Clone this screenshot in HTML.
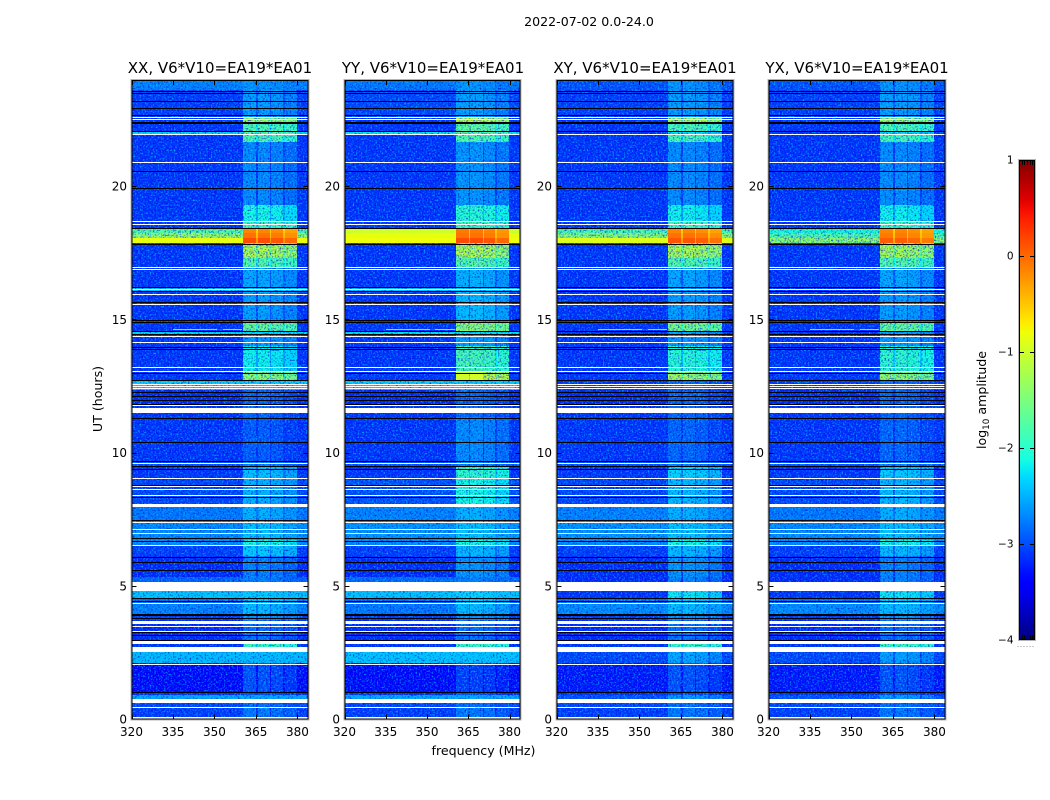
<!DOCTYPE html>
<html lang="en">
<head>
<meta charset="utf-8">
<title>2022-07-02 0.0-24.0</title>
<style>
html,body{margin:0;padding:0;background:#fff;}
svg{display:block;}
text{font-family:"DejaVu Sans","Liberation Sans",sans-serif;fill:#000;}
</style>
</head>
<body>
<svg id="fig" xmlns="http://www.w3.org/2000/svg" width="1050" height="800" viewBox="0 0 1050 800">
  <defs>
    <filter id="speckle-light" x="0" y="0" width="100%" height="100%" color-interpolation-filters="sRGB">
      <feTurbulence type="fractalNoise" baseFrequency="0.62" numOctaves="1" seed="4"/>
      <feColorMatrix type="matrix" values="0 0 0 0 0  0 0 0 0 0.8  0 0 0 0 1  2.6 0 0 0 -1.25"/>
    </filter>
    <filter id="speckle-dark" x="0" y="0" width="100%" height="100%" color-interpolation-filters="sRGB">
      <feTurbulence type="fractalNoise" baseFrequency="0.6" numOctaves="1" seed="11"/>
      <feColorMatrix type="matrix" values="0 0 0 0 0  0 0 0 0 0  0 0 0 0 0.8  0 2.4 0 0 -1.2"/>
    </filter>
    <linearGradient id="jet-gradient" x1="0" y1="1" x2="0" y2="0"></linearGradient>
  </defs>
  <rect x="0" y="0" width="1050" height="800" fill="#fff"/>
  <text x="589" y="26" font-size="12.6" text-anchor="middle">2022-07-02 0.0-24.0</text>
  <text x="220" y="73" font-size="15" text-anchor="middle">XX, V6*V10=EA19*EA01</text>
  <text x="433" y="73" font-size="15" text-anchor="middle">YY, V6*V10=EA19*EA01</text>
  <text x="645" y="73" font-size="15" text-anchor="middle">XY, V6*V10=EA19*EA01</text>
  <text x="857" y="73" font-size="15" text-anchor="middle">YX, V6*V10=EA19*EA01</text>
  <text x="0" y="0" font-size="12.6" text-anchor="middle" transform="translate(102,399) rotate(-90)">UT (hours)</text>
  <text x="483.5" y="755" font-size="12.6" text-anchor="middle">frequency (MHz)</text>
  <text x="0" y="0" font-size="12.6" text-anchor="middle" transform="translate(986,400) rotate(-90)">log<tspan font-size="8.8" dy="3">10</tspan><tspan dy="-3"> amplitude</tspan></text>
  <g id="panels"></g>
  <g id="colorbar"></g>
</svg>
<script>
// Frequency zones (MHz): quiet band, then four RFI blocks with narrow gaps, then quiet band.
var freqEdges = [320, 360.4, 365.1, 365.8, 370.2, 370.6, 374.9, 375.6, 379.8, 384];
var zoneRfiOffset = [-9, 0, -0.4, 0, -0.4, -0.05, -0.4, -0.15, -9];

// Time bands (UT hours), top to bottom.
var bandEdgesUT = [24, 23.60, 22.59, 22.33, 22.03, 21.91, 21.65, 19.29, 18.65, 18.43, 18.24, 18.05, 17.86, 17.30, 16.96, 16.21, 16.02, 14.86, 14.52, 14.41, 14.00, 13.02, 12.72, 12.35, 11.75, 11.34, 9.65, 9.46, 8.97, 8.03, 7.47, 6.72, 6.49, 6.12, 5.33, 5.14, 4.81, 4.54, 4.36, 3.94, 3.72, 2.97, 2.52, 2.11, 1.01, 0.90, 0.75, 0.45, 0];

// log10 amplitude of the quiet background in each time band.
var backgroundXX = [-2.75, -3.1, -3.15, -3.15, -2.3, -3.15, -3.15, -3.15, -3.15, -1.7, -1.3, -0.85, -3.15, -3.15, -3.15, -2.4, -3.15, -3.15, -2.3, -3.15, -3.15, -3.15, -2.35, -3.2, -3.15, -3.15, -3.0, -3.15, -3.05, -2.8, -2.7, -2.7, -3.1, -3.2, -2.9, -2.9, -2.4, -2.85, -2.75, -3.1, -3.2, -3.15, -2.45, -3.4, -3.15, -2.55, -3.05, -3.1];
var backgroundYY = [-2.8, -3.05, -3.15, -3.15, -2.2, -3.15, -3.15, -3.15, -3.15, -1.0, -0.85, -0.8, -3.15, -3.15, -3.15, -2.4, -3.15, -3.15, -2.25, -3.15, -3.15, -3.15, -2.35, -3.2, -3.15, -3.15, -3.0, -3.15, -3.0, -2.75, -2.65, -2.7, -3.1, -3.2, -2.85, -2.85, -2.4, -2.85, -2.8, -3.1, -3.2, -3.15, -2.4, -3.45, -3.15, -2.55, -3.05, -3.1];
var backgroundXY = [-3.0, -3.1, -3.15, -3.15, -3.15, -3.15, -3.15, -3.15, -3.15, -1.75, -1.4, -0.9, -3.15, -3.15, -3.15, -3.15, -3.15, -3.15, -3.15, -3.15, -3.15, -3.15, -3.1, -3.2, -3.15, -3.15, -3.0, -3.15, -3.05, -2.75, -2.65, -2.7, -3.1, -3.2, -3.2, -3.2, -3.15, -2.85, -2.7, -3.1, -3.2, -3.15, -3.05, -3.3, -3.15, -3.0, -3.05, -3.1];
var backgroundYX = [-3.0, -3.1, -3.15, -3.15, -3.15, -3.15, -3.15, -3.15, -3.15, -2.05, -1.75, -1.35, -3.15, -3.15, -3.15, -3.15, -3.15, -3.15, -3.15, -3.15, -3.15, -3.15, -3.1, -3.2, -3.15, -3.15, -3.0, -3.15, -3.05, -2.8, -2.7, -2.7, -3.1, -3.2, -3.2, -3.2, -3.15, -2.85, -2.7, -3.1, -3.2, -3.15, -3.05, -3.3, -3.15, -3.0, -3.05, -3.1];

// log10 amplitude inside the RFI blocks in each time band.
var rfiXX = [-2.65, -2.6, -1.3, -1.75, -1.6, -1.75, -2.7, -2.1, -1.85, -0.15, -0.05, 0.15, -1.15, -1.7, -2.55, -2.45, -2.6, -1.6, -2.45, -2.6, -2.15, -1.35, -2.55, -2.9, -2.9, -2.95, -2.75, -2.4, -2.5, -2.5, -2.4, -2.05, -2.35, -2.75, -2.75, -2.75, -2.35, -2.4, -2.45, -2.65, -2.85, -1.85, -2.45, -3.0, -3.0, -2.6, -2.85, -2.8];
var rfiYY = [-2.65, -2.6, -1.1, -1.65, -1.6, -1.75, -2.65, -2.0, -1.85, -0.1, -0.05, 0.15, -1.15, -1.7, -2.5, -2.45, -2.45, -1.35, -2.45, -2.6, -1.8, -1.0, -2.45, -2.9, -2.9, -2.7, -2.75, -1.95, -2.1, -2.5, -2.4, -2.05, -2.45, -2.65, -2.75, -2.75, -2.3, -2.4, -2.45, -2.65, -2.85, -1.85, -2.4, -3.1, -3.0, -2.6, -2.85, -2.8];
var rfiXY = [-2.65, -2.6, -1.2, -1.75, -2.25, -1.8, -2.7, -2.15, -1.85, -0.15, -0.05, 0.1, -1.15, -1.7, -2.55, -2.6, -2.6, -1.5, -2.55, -2.6, -2.0, -1.25, -2.85, -2.9, -2.9, -2.9, -2.75, -2.3, -2.45, -2.5, -2.4, -2.05, -2.45, -2.65, -2.75, -2.75, -2.2, -2.4, -2.45, -2.65, -2.85, -1.85, -2.55, -3.0, -3.0, -2.6, -2.85, -2.8];
var rfiYX = [-2.65, -2.6, -1.3, -1.75, -2.25, -1.8, -2.7, -2.15, -1.85, -0.15, -0.1, 0.05, -1.2, -1.7, -2.55, -2.6, -2.6, -1.6, -2.55, -2.6, -1.95, -1.35, -2.85, -2.9, -2.9, -2.9, -2.75, -2.35, -2.45, -2.5, -2.4, -2.05, -2.45, -2.75, -2.75, -2.75, -2.2, -2.4, -2.45, -2.65, -2.85, -1.85, -2.6, -3.0, -3.0, -2.6, -2.85, -2.8];

// Flagged integrations (UT hours): white = no data [low, high]; black = single dropped rows.
var whiteFlagLow = [22.55, 22.48, 21.91, 20.86, 18.65, 18.54, 16.92, 16.85, 16.10, 15.91, 15.54, 14.34, 14.11, 13.17, 13.02, 12.53, 12.46, 12.39, 11.75, 11.48, 9.57, 9.01, 8.71, 8.60, 8.37, 7.96, 7.36, 7.09, 6.94, 6.49, 4.81, 4.32, 3.57, 3.45, 3.27, 2.82, 2.52, 2.03, 0.60, 0.42, 0];
var whiteFlagHigh = [22.59, 22.51, 21.95, 20.90, 18.69, 18.58, 16.96, 16.89, 16.14, 15.95, 15.57, 14.37, 14.15, 13.21, 13.06, 12.57, 12.50, 12.42, 11.78, 11.67, 9.61, 9.05, 8.75, 8.63, 8.41, 8.07, 7.39, 7.13, 6.98, 6.53, 5.14, 4.36, 3.68, 3.49, 3.30, 2.93, 2.70, 2.07, 0.75, 0.45, 0.08];
var blackFlagUT = [23.57, 23.49, 23.19, 22.93, 22.67, 22.40, 22.37, 22.06, 20.56, 19.93, 18.43, 17.83, 16.21, 16.06, 15.65, 14.97, 14.90, 14.56, 14.45, 13.96, 13.89, 12.99, 12.72, 12.27, 12.12, 11.97, 11.82, 11.30, 10.40, 9.68, 9.50, 9.38, 8.78, 8.33, 7.47, 6.79, 6.68, 6.08, 5.89, 5.59, 4.54, 4.43, 3.94, 3.91, 3.79, 3.27, 3.16, 2.97, 1.01];

// Isolated bright RFI spikes.
var spikeUT = [14.64, 14.64, 0.45];
var spikeFreqStart = [335, 351, 367.5];
var spikeFreqEnd = [360, 353, 370];
var spikeValue = [-1.7, 0.4, -0.7];

// Axis ticks.
var xTickValues = [320, 335, 350, 365, 380];
var yTickValues = [0, 5, 10, 15, 20];
var colorbarTicks = [1, 0, -1, -2, -3, -4];

var panelNames = ['xx', 'yy', 'xy', 'yx'];
var panelBackground = [backgroundXX, backgroundYY, backgroundXY, backgroundYX];
var panelRfi = [rfiXX, rfiYY, rfiXY, rfiYX];

var NS = 'http://www.w3.org/2000/svg';
var FRAME_TOP = 80, FRAME_BOTTOM = 719.5, Y_ZERO = 719, PX_PER_HOUR = 26.65;
var FREQ_MIN = 320, FREQ_MAX = 384;
var panelLeftPx = [131.5, 344.5, 556.5, 768.5];
var panelWidthPx = [177, 176, 177, 177];

function yScale(ut) { return Y_ZERO - PX_PER_HOUR * ut; }
function xScale(panel, f) { return panelLeftPx[panel] + (f - FREQ_MIN) / (FREQ_MAX - FREQ_MIN) * panelWidthPx[panel]; }
function clamp(v) { return Math.max(0, Math.min(1, v)); }
function jet(value) {
  var t = clamp((value + 4) / 5);
  var r = t < 0.35 ? 0 : t < 0.66 ? (t - 0.35) / 0.31 : t < 0.89 ? 1 : 1 - (t - 0.89) / 0.11 * 0.5;
  var g = t < 0.125 ? 0 : t < 0.375 ? (t - 0.125) / 0.25 : t < 0.64 ? 1 : t < 0.91 ? 1 - (t - 0.64) / 0.27 : 0;
  var b = t < 0.11 ? 0.5 + t / 0.11 * 0.5 : t < 0.34 ? 1 : t < 0.65 ? 1 - (t - 0.34) / 0.31 : 0;
  return 'rgb(' + Math.round(r * 255) + ',' + Math.round(g * 255) + ',' + Math.round(b * 255) + ')';
}
function svgEl(tag, attrs, parent) {
  var el = document.createElementNS(NS, tag);
  for (var k in attrs) { el.setAttribute(k, attrs[k]); }
  parent.appendChild(el);
  return el;
}

var panelsRoot = document.getElementById('panels');
panelNames.forEach(function (name, p) {
  var g = svgEl('g', {}, panelsRoot);
  
  

  var left = panelLeftPx[p], right = left + panelWidthPx[p];
  var clip = svgEl('clipPath', { id: 'clip-' + name }, g);
  svgEl('rect', { x: left, y: FRAME_TOP, width: panelWidthPx[p], height: FRAME_BOTTOM - FRAME_TOP }, clip);

  var plot = svgEl('g', { 'clip-path': 'url(#clip-' + name + ')', 'shape-rendering': 'crispEdges' }, g);
  
  
  var lowLayer = svgEl('g', {}, plot);
  var textureLayer = svgEl('g', {}, plot);
  var highLayer = svgEl('g', {}, plot);
  var flagLayer = svgEl('g', {}, plot);

  var bg = panelBackground[p], rfi = panelRfi[p];
  for (var b = 0; b + 1 < bandEdgesUT.length; b++) {
    var yTop = Math.round(yScale(bandEdgesUT[b]));
    var yBot = Math.round(yScale(bandEdgesUT[b + 1]));
    for (var z = 0; z + 1 < freqEdges.length; z++) {
      var value = Math.max(bg[b], rfi[b] + zoneRfiOffset[z]);
      var x0 = Math.round(xScale(p, freqEdges[z]));
      var x1 = Math.round(xScale(p, freqEdges[z + 1]));
      var cell = svgEl('rect', { x: x0, y: yTop, width: x1 - x0, height: yBot - yTop, fill: jet(value) }, value > -1.05 ? highLayer : lowLayer);
      
      
    }
  }

  var lightTex = svgEl('rect', { x: left, y: FRAME_TOP, width: panelWidthPx[p], height: FRAME_BOTTOM - FRAME_TOP, filter: 'url(#speckle-light)' }, textureLayer);
  
  
  var darkTex = svgEl('rect', { x: left, y: FRAME_TOP, width: panelWidthPx[p], height: FRAME_BOTTOM - FRAME_TOP, filter: 'url(#speckle-dark)' }, textureLayer);
  
  

  blackFlagUT.forEach(function (ut) {
    var line = svgEl('rect', { x: left, y: Math.round(yScale(ut)), width: panelWidthPx[p], height: 1, fill: '#000' }, flagLayer);
    
    
  });
  whiteFlagLow.forEach(function (low, i) {
    var top = Math.round(yScale(whiteFlagHigh[i]));
    var bot = Math.round(yScale(low));
    var flag = svgEl('rect', { x: left, y: top, width: panelWidthPx[p], height: Math.max(1, bot - top), fill: '#fff' }, flagLayer);
    
    
  });
  spikeUT.forEach(function (ut, i) {
    var x0 = Math.round(xScale(p, spikeFreqStart[i]));
    var x1 = Math.round(xScale(p, spikeFreqEnd[i]));
    var spike = svgEl('rect', { x: x0, y: Math.round(yScale(ut)), width: x1 - x0, height: 1, fill: jet(spikeValue[i]) }, flagLayer);
    
    
  });

  // Frame: soft grey outside, black inside.
  var outer = svgEl('rect', { x: left - 0.5, y: FRAME_TOP - 0.5, width: panelWidthPx[p] + 1, height: FRAME_BOTTOM - FRAME_TOP + 1, fill: 'none', stroke: '#b4b4b4', 'stroke-width': 1 }, g);
  
  
  var frame = svgEl('rect', { x: left + 0.5, y: FRAME_TOP + 0.5, width: panelWidthPx[p] - 1, height: FRAME_BOTTOM - FRAME_TOP - 1, fill: 'none', stroke: '#000', 'stroke-width': 1 }, g);
  
  

  // X ticks on top and bottom edges, labels below.
  xTickValues.forEach(function (tick) {
    var x = Math.round(xScale(p, tick)) + 0.5;
    var tTop = svgEl('line', { x1: x, x2: x, y1: FRAME_TOP, y2: FRAME_TOP + 5, stroke: '#000', 'stroke-width': 1 }, g);
    
    
    var tBot = svgEl('line', { x1: x, x2: x, y1: FRAME_BOTTOM - 5, y2: FRAME_BOTTOM, stroke: '#000', 'stroke-width': 1 }, g);
    
    
    var label = svgEl('text', { x: xScale(p, tick), y: 736, 'font-size': 12, 'text-anchor': 'middle' }, g);
    label.textContent = String(tick);
    
    
  });

  // Y ticks on both edges, labels on the left.
  yTickValues.forEach(function (tick) {
    var y = Math.round(yScale(tick)) + 0.5;
    if (tick > 0) {
      var tLeft = svgEl('line', { x1: left, x2: left + 5, y1: y, y2: y, stroke: '#000', 'stroke-width': 1 }, g);
      
      
      var tRight = svgEl('line', { x1: right - 5, x2: right, y1: y, y2: y, stroke: '#000', 'stroke-width': 1 }, g);
      
      
    }
    var label = svgEl('text', { x: left - 4.5, y: yScale(tick) + 4.5, 'font-size': 12, 'text-anchor': 'end' }, g);
    label.textContent = String(tick);
    
    
  });
});

// Colorbar
var CB_LEFT = 1019, CB_RIGHT = 1035, CB_TOP = 160, CB_BOTTOM = 640;
var CB_MIN = -4, CB_MAX = 1;
function cbY(v) { return CB_BOTTOM - (v - CB_MIN) / (CB_MAX - CB_MIN) * (CB_BOTTOM - CB_TOP); }

var gradient = document.getElementById('jet-gradient');
for (var s = 0; s <= 50; s++) {
  var stopValue = CB_MIN + (CB_MAX - CB_MIN) * s / 50;
  svgEl('stop', { offset: (s * 2) + '%', 'stop-color': jet(stopValue) }, gradient);
}

var cbRoot = document.getElementById('colorbar');
var cbFill = svgEl('rect', { x: CB_LEFT, y: CB_TOP, width: CB_RIGHT - CB_LEFT, height: CB_BOTTOM - CB_TOP, fill: 'url(#jet-gradient)' }, cbRoot);


var cbOuter = svgEl('rect', { x: CB_LEFT - 0.5, y: CB_TOP - 0.5, width: CB_RIGHT - CB_LEFT + 1, height: CB_BOTTOM - CB_TOP + 1, fill: 'none', stroke: '#b4b4b4', 'stroke-width': 1 }, cbRoot);


var cbFrame = svgEl('rect', { x: CB_LEFT + 0.5, y: CB_TOP + 0.5, width: CB_RIGHT - CB_LEFT - 1, height: CB_BOTTOM - CB_TOP - 1, fill: 'none', stroke: '#000', 'stroke-width': 1 }, cbRoot);



colorbarTicks.forEach(function (tick) {
  var y = Math.round(cbY(tick)) + 0.5;
  if (tick < CB_MAX && tick > CB_MIN) {
    var tl = svgEl('line', { x1: CB_LEFT, x2: CB_LEFT + 5, y1: y, y2: y, stroke: '#000', 'stroke-width': 1 }, cbRoot);
    
    
    var tr = svgEl('line', { x1: CB_RIGHT - 5, x2: CB_RIGHT, y1: y, y2: y, stroke: '#000', 'stroke-width': 1 }, cbRoot);
    
    
  }
  var label = svgEl('text', { x: 1013.5, y: cbY(tick) + 3.5, 'font-size': 10.5, 'text-anchor': 'end' }, cbRoot);
  label.textContent = String(tick).replace('-', '\u2212');
  
  
});

// Tiny minor ticks on the colorbar's top and bottom edges, and the dotted row beneath it.
var cbMinorFractions = [0.17, 0.34, 0.5, 0.67, 0.84];
cbMinorFractions.forEach(function (frac) {
  var x = Math.round(CB_LEFT + frac * (CB_RIGHT - CB_LEFT)) + 0.5;
  var mt = svgEl('line', { x1: x, x2: x, y1: CB_TOP, y2: CB_TOP + 5, stroke: '#000', 'stroke-width': 1 }, cbRoot);
  
  
  var mb = svgEl('line', { x1: x, x2: x, y1: CB_BOTTOM - 5, y2: CB_BOTTOM, stroke: '#000', 'stroke-width': 1 }, cbRoot);
  
  
});
var cbDots = svgEl('line', { x1: 1017.5, x2: 1035, y1: 646.5, y2: 646.5, stroke: '#9a9a9a', 'stroke-width': 1, 'stroke-dasharray': '1 2' }, cbRoot);


</script>
</body>
</html>
